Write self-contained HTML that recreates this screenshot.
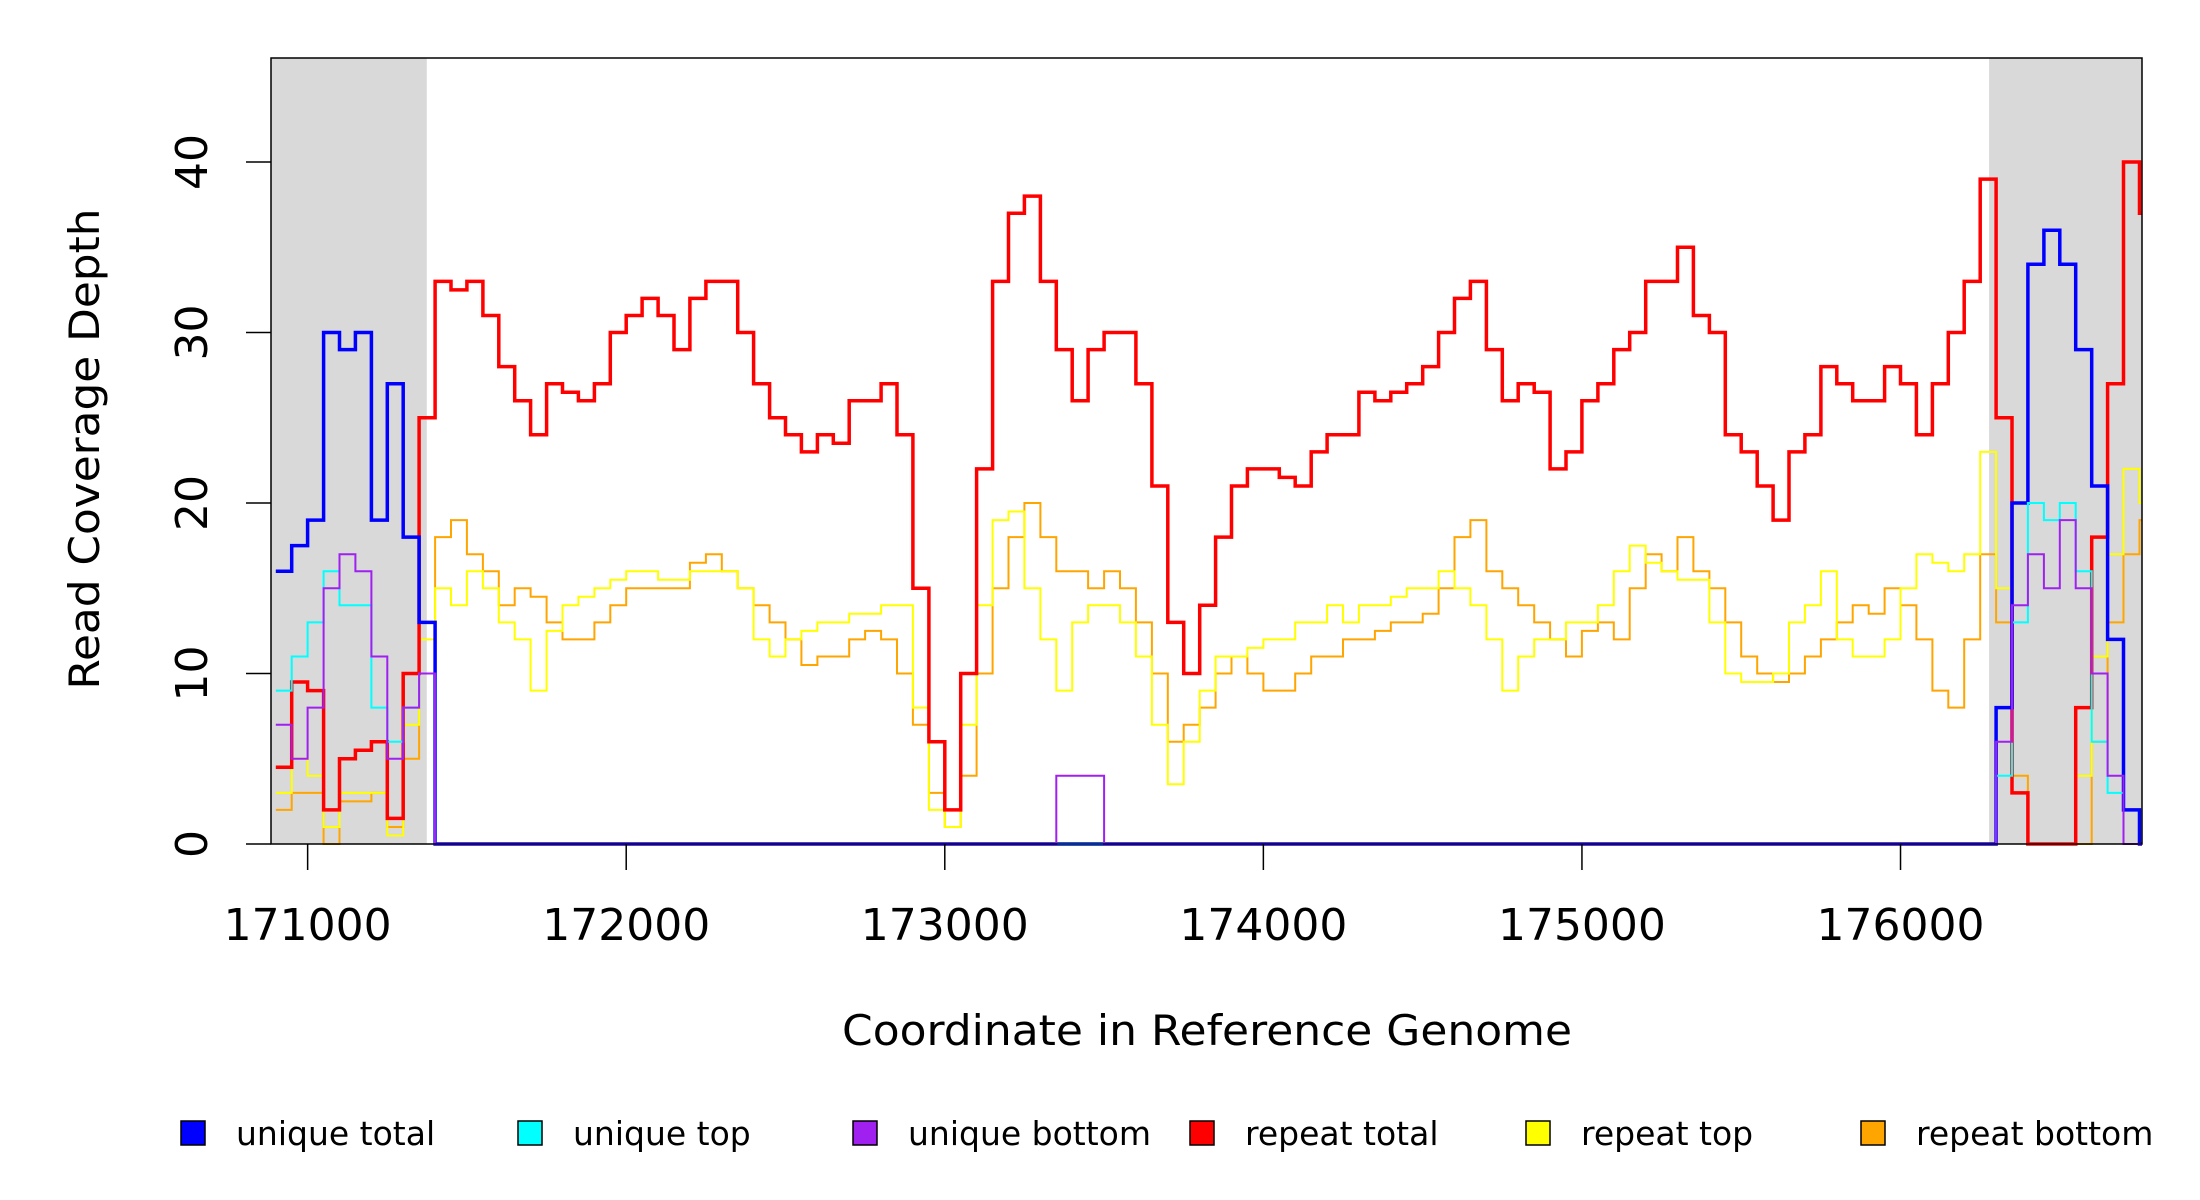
<!DOCTYPE html>
<html><head><meta charset="utf-8"><style>
html,body{margin:0;padding:0;background:#fff}
svg{display:block}
text{font-family:"DejaVu Sans","Liberation Sans",sans-serif;fill:#000}
</style></head><body>
<svg id="chart" width="2200" height="1200" viewBox="0 0 2200 1200" xmlns="http://www.w3.org/2000/svg">
<rect x="0" y="0" width="2200" height="1200" fill="#fff"/>
<g id="shade"></g>
<g id="series"></g>
<rect x="271" y="58" width="1871" height="786" fill="none" stroke="#000" stroke-width="1.5"/>
<g id="axes"></g>
<text x="1207" y="1045" font-size="42" text-anchor="middle" textLength="730" lengthAdjust="spacingAndGlyphs">Coordinate in Reference Genome</text>
<text transform="translate(99,449) rotate(-90)" font-size="42" text-anchor="middle" textLength="481" lengthAdjust="spacingAndGlyphs">Read Coverage Depth</text>
<g id="legend"></g>
</svg>
<script>
const start = 170900;
const step = 50;
const xTicks = [171000,172000,173000,174000,175000,176000];
const yTicks = [0,10,20,30,40];
const shadedRegions = [[170885,171374],[176278,176758]];
const seriesNames = ["unique total","unique top","unique bottom","repeat total","repeat top","repeat bottom"];
const seriesColors = ["#0000ff","#00ffff","#a020f0","#ff0000","#ffff00","#ffa500"];
const uniqueTotal = [16,17.5,19,30,29,30,19,27,18,13,
0,0,0,0,0,0,0,0,0,0, 0,0,0,0,0,0,0,0,0,0, 0,0,0,0,0,0,0,0,0,0, 0,0,0,0,0,0,0,0,0,0,
0,0,0,0,0,0,0,0,0,0, 0,0,0,0,0,0,0,0,0,0, 0,0,0,0,0,0,0,0,0,0, 0,0,0,0,0,0,0,0,0,0, 0,0,0,0,0,0,0,0,0,0,
0,0,0,0,0,0,0,0,8,20, 34,36,34,29,21,12,2,0];
const uniqueTop = [9,11,13,16,14,14,8,6,8,10,
0,0,0,0,0,0,0,0,0,0, 0,0,0,0,0,0,0,0,0,0, 0,0,0,0,0,0,0,0,0,0, 0,0,0,0,0,0,0,0,0,0,
0,0,0,0,0,0,0,0,0,0, 0,0,0,0,0,0,0,0,0,0, 0,0,0,0,0,0,0,0,0,0, 0,0,0,0,0,0,0,0,0,0, 0,0,0,0,0,0,0,0,0,0,
0,0,0,0,0,0,0,0,4,13, 20,19,20,16,6,3,0,0];
const uniqueBottom = [7,5,8,15,17,16,11,5,8,10,
0,0,0,0,0,0,0,0,0,0, 0,0,0,0,0,0,0,0,0,0, 0,0,0,0,0,0,0,0,0,0, 0,0,0,0,0,0,0,0,0,4,
4,4,0,0,0,0,0,0,0,0, 0,0,0,0,0,0,0,0,0,0, 0,0,0,0,0,0,0,0,0,0, 0,0,0,0,0,0,0,0,0,0, 0,0,0,0,0,0,0,0,0,0,
0,0,0,0,0,0,0,0,6,14, 17,15,19,15,10,4,0,0];
const repeatTotal = [4.5,9.5,9,2,5,5.5,6,1.5,10,25,
33,32.5,33,31,28,26,24,27,26.5,26,
27,30,31,32,31,29,32,33,33,30,
27,25,24,23,24,23.5,26,26,27,24,
15,6,2,10,22,33,37,38,33,29,
26,29,30,30,27,21,13,10,14,18,
21,22,22,21.5,21,23,24,24,26.5,26,
26.5,27,28,30,32,33,29,26,27,26.5,
22,23,26,27,29,30,33,33,35,31,
30,24,23,21,19,23,24,28,27,26,
26,28,27,24,27,30,33,39,25,3,
0,0,0,8,18,27,40,37];
const repeatTop = [3,5,4,1,3,3,3,0.5,7,12,
15,14,16,15,13,12,9,12.5,14,14.5,
15,15.5,16,16,15.5,15.5,16,16,16,15,
12,11,12,12.5,13,13,13.5,13.5,14,14,
8,2,1,7,14,19,19.5,15,12,9,
13,14,14,13,11,7,3.5,6,9,11,
11,11.5,12,12,13,13,14,13,14,14,
14.5,15,15,16,15,14,12,9,11,12,
12,13,13,14,16,17.5,16.5,16,15.5,15.5,
13,10,9.5,9.5,10,13,14,16,12,11,
11,12,15,17,16.5,16,17,23,15,3,
0,0,0,4,11,17,22,20];
const repeatBottom = [2,3,3,0,2.5,2.5,3,1,5,10,
18,19,17,16,14,15,14.5,13,12,12,
13,14,15,15,15,15,16.5,17,16,15,
14,13,12,10.5,11,11,12,12.5,12,10,
7,3,1,4,10,15,18,20,18,16,
16,15,16,15,13,10,6,7,8,10,
11,10,9,9,10,11,11,12,12,12.5,
13,13,13.5,15,18,19,16,15,14,13,
12,11,12.5,13,12,15,17,16,18,16,
15,13,11,10,9.5,10,11,12,13,14,
13.5,15,14,12,9,8,12,17,13,4,
0,0,0,0,6,13,17,19];

const NS = "http://www.w3.org/2000/svg";
const X0 = 271, X1 = 2142, Y0 = 844, Y1 = 58;
const xMin = 170885, xMax = 176758, yMin = 0, yMax = 46.1;
function sx(v){ return X0 + (v - xMin) / (xMax - xMin) * (X1 - X0); }
function sy(v){ return Y0 - (v - yMin) / (yMax - yMin) * (Y0 - Y1); }
function mk(tag, attrs, parent){ const e = document.createElementNS(NS, tag); for (const k in attrs) e.setAttribute(k, attrs[k]); parent.appendChild(e); return e; }

const shadeG = document.getElementById('shade');
shadedRegions.forEach(r => {
  const rc = mk('rect', {x: sx(r[0]), y: Y1, width: sx(r[1]) - sx(r[0]), height: Y0 - Y1, fill: '#d9d9d9'}, shadeG);
  
  
});

const seriesG = document.getElementById('series');
const order = [[repeatBottom,5,2],[repeatTop,4,2],[repeatTotal,3,3.5],[uniqueTotal,0,3.5],[uniqueTop,1,2],[uniqueBottom,2,2]];
order.forEach(([vals, ci, w]) => {
  let d = '';
  for (let i = 0; i < vals.length; i++) {
    const xa = sx(start + i * step), xb = sx(Math.min(start + (i + 1) * step, xMax)), y = sy(vals[i]);
    d += (i === 0 ? 'M' : 'L') + xa.toFixed(1) + ',' + y.toFixed(1) + 'L' + xb.toFixed(1) + ',' + y.toFixed(1);
  }
  const p = mk('path', {d: d, fill: 'none', stroke: seriesColors[ci], 'stroke-width': w, 'stroke-linejoin': 'miter'}, seriesG);
  
  
});

const axesG = document.getElementById('axes');
xTicks.forEach(t => {
  const x = sx(t);
  const ln = mk('line', {x1: x, y1: Y0, x2: x, y2: Y0 + 26, stroke: '#000', 'stroke-width': 1.5}, axesG);
  
  
  const tx = mk('text', {x: x, y: 940, 'font-size': 44, 'text-anchor': 'middle'}, axesG);
  tx.textContent = String(t);
  
  
});
yTicks.forEach(t => {
  const y = sy(t);
  const ln = mk('line', {x1: 246, y1: y, x2: X0, y2: y, stroke: '#000', 'stroke-width': 1.5}, axesG);
  
  
  const tx = mk('text', {transform: 'translate(207,' + y + ') rotate(-90)', 'font-size': 44, 'text-anchor': 'middle'}, axesG);
  tx.textContent = String(t);
  
  
});

const legG = document.getElementById('legend');
const legX = [181, 518, 853, 1190, 1526, 1861];
seriesNames.forEach((n, i) => {
  const g = mk('g', {}, legG);
  
  
  mk('rect', {x: legX[i], y: 1121, width: 24, height: 24, fill: seriesColors[i], stroke: '#000', 'stroke-width': 1.5}, g);
  const tx = mk('text', {x: legX[i] + 55, y: 1145, 'font-size': 33}, g);
  tx.textContent = n;
});
</script>
</body></html>
